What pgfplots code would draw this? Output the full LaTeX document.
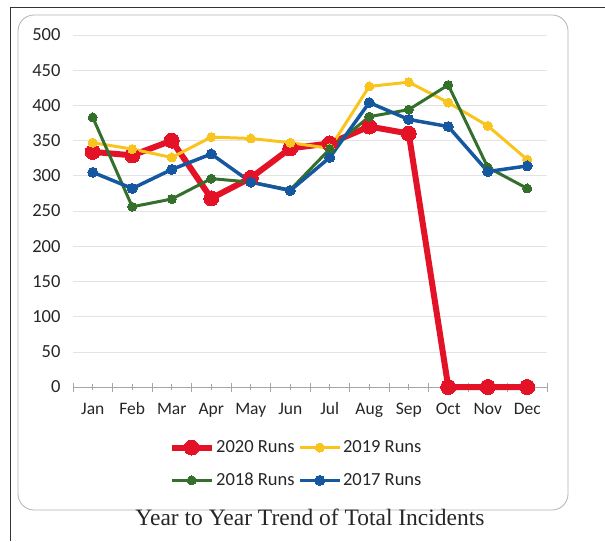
\documentclass[border=0pt]{standalone}
\usepackage{fontspec}
\setmainfont{Carlito}
\newfontfamily\titlefont{Liberation Serif}
\usepackage{pgfplots}
\pgfplotsset{compat=1.18}
\definecolor{c2020}{RGB}{228,18,38}
\definecolor{c2019}{RGB}{250,196,30}
\definecolor{c2018}{RGB}{52,112,44}
\definecolor{c2017}{RGB}{22,88,160}

\begin{document}
\begin{tikzpicture}[x=1pt,y=1pt]
\path[use as bounding box] (0,0) rectangle (605,541);
% page frame and rounded chart panel
\draw[black!80, line width=1pt] (10,0) -- (10,533) -- (605,533);
\draw[gray!60, line width=0.8pt, rounded corners=16pt] (18,31) rectangle (568,526);
\begin{axis}[
  at={(73pt,154pt)}, anchor=south west,
  width=474pt, height=352pt, scale only axis,
  xmin=-0.5, xmax=11.5, ymin=0, ymax=500,
  axis x line*=bottom, axis y line*=left,
  y axis line style={draw=none},
  x axis line style={gray!70, line width=0.7pt},
  ytick={0,50,...,500},
  ytick style={draw=none},
  xtick={0,...,11},
  xticklabels={Jan,Feb,Mar,Apr,May,Jun,Jul,Aug,Sep,Oct,Nov,Dec},
  minor xtick={-0.5,0.5,...,11.5},
  tick align=center,
  major tick length=6pt, minor tick length=9pt,
  xtick style={gray!70, line width=0.6pt},
  minor tick style={gray!70, line width=0.6pt},
  ymajorgrids, grid style={gray!22, line width=0.6pt},
  tick label style={text=black!85},
  yticklabel style={font=\fontsize{18.5}{20}\selectfont, xshift=-6pt},
  xticklabel style={font=\fontsize{17.5}{19}\selectfont, text height=12.5pt, text depth=4pt, yshift=-8pt},
  /pgf/number format/assume math mode=true,
  clip=false,
  legend style={at={(0.47,-0.219)}, anchor=center, draw=none, fill=none,
    font=\fontsize{18.5}{20}\selectfont, text=black!85,
    row sep=16pt, inner sep=0pt,
    nodes={inner sep=1.5pt},
    /tikz/every even column/.append style={column sep=2pt}},
  legend columns=2,
  legend image code/.code={\draw[mark repeat=2,mark phase=2,#1] plot coordinates {(0pt,0pt) (20pt,0pt) (40pt,0pt)};},
]
\addplot[c2020, line width=6pt, mark=*, mark size=7.5pt, mark options={solid, fill=c2020, line width=0pt}]
  coordinates {(0,334) (1,329) (2,350) (3,268) (4,297) (5,339) (6,346) (7,370) (8,360) (9,0) (10,0) (11,0)};
\addlegendentry{2020 Runs}
\addplot[c2019, line width=3pt, mark=*, mark size=4.5pt, mark options={solid, fill=c2019, line width=0pt}]
  coordinates {(0,347) (1,338) (2,326) (3,355) (4,353) (5,347) (6,339) (7,427) (8,433) (9,404) (10,371) (11,323)};
\addlegendentry{2019 Runs}
\addplot[c2018, line width=3pt, mark=*, mark size=4.5pt, mark options={solid, fill=c2018, line width=0pt}]
  coordinates {(0,383) (1,256) (2,267) (3,296) (4,291) (5,280) (6,338) (7,384) (8,394) (9,429) (10,312) (11,282)};
\addlegendentry{2018 Runs}
\addplot[c2017, line width=3.5pt, mark=*, mark size=5pt, mark options={solid, fill=c2017, line width=0pt}]
  coordinates {(0,305) (1,282) (2,309) (3,331) (4,291) (5,279) (6,326) (7,404) (8,380) (9,370) (10,306) (11,314)};
\addlegendentry{2017 Runs}
\end{axis}
\node[font=\titlefont\fontsize{23.5}{25}\selectfont, text=black!85] at (310,24) {Year to Year Trend of Total Incidents};
\end{tikzpicture}
\end{document}
